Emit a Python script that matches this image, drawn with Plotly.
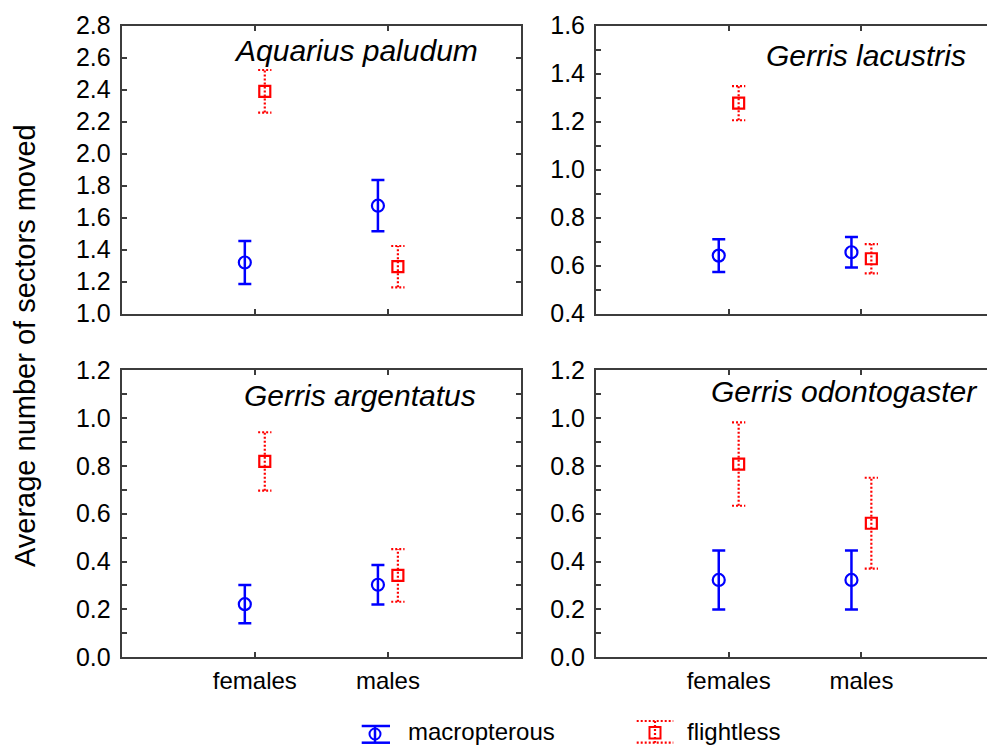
import plotly.graph_objects as go

# ---------------- data ----------------
categories = ["females", "males"]
species = ["Aquarius paludum", "Gerris lacustris", "Gerris argentatus", "Gerris odontogaster"]

macro_mean = [[1.32, 1.675], [0.642, 0.656], [0.222, 0.303], [0.323, 0.323]]
macro_err = [[0.135, 0.160], [0.068, 0.064], [0.080, 0.082], [0.123, 0.123]]
flight_mean = [[2.39, 1.294], [1.277, 0.629], [0.818, 0.342], [0.807, 0.560]]
flight_err = [[0.133, 0.129], [0.071, 0.061], [0.122, 0.110], [0.174, 0.190]]

y_ranges = [[1.0, 2.8], [0.4, 1.6], [0.0, 1.2], [0.0, 1.2]]
y_title = "Average number of sectors moved"
legend_names = ["macropterous", "flightless"]

# ---------------- styling ----------------
W, H = 987, 745
FONT = "Liberation Sans, Arial, sans-serif"
BLUE = "#0000FF"
RED = "#FF0000"
AX = "#3c3c3c"
OFF = 0.075      # horizontal offset of the two groups (category units)
CAP = 0.05       # half cap width (category units)

def px_x(p):
    return p / W

def px_y(p):
    return 1 - p / H

x_dom = [[px_x(121.7), px_x(521)], [px_x(596), 1.0]]
y_dom = [[px_y(313.7), px_y(25.7)], [px_y(657.3), px_y(370)]]
x_rng = [[0, 3], [0, (987 - 596) / 132.7]]

fig = go.Figure()
xpos = list(range(1, len(categories) + 1))

for i in range(4):
    row, col = divmod(i, 2)
    xa = "x" if i == 0 else f"x{i+1}"
    ya = "y" if i == 0 else f"y{i+1}"

    # macropterous (solid error bars)
    fig.add_trace(go.Scatter(
        x=[p - OFF for p in xpos], y=macro_mean[i],
        mode="markers",
        marker=dict(symbol="circle-open", size=12, color=BLUE, line=dict(width=2.2, color=BLUE)),
        error_y=dict(type="data", array=macro_err[i], visible=True,
                     color=BLUE, thickness=2.5, width=6.5),
        xaxis=xa, yaxis=ya, showlegend=False, hoverinfo="skip"))

    # flightless (dotted error bars, built from data)
    lx, ly = [], []
    for p, m, e in zip(xpos, flight_mean[i], flight_err[i]):
        xc = p + OFF
        lx += [xc, xc, None, xc - CAP, xc + CAP, None, xc - CAP, xc + CAP, None]
        ly += [m - e, m + e, None, m + e, m + e, None, m - e, m - e, None]
    fig.add_trace(go.Scatter(
        x=lx, y=ly, mode="lines",
        line=dict(color=RED, width=2.2, dash="2px,2px"),
        xaxis=xa, yaxis=ya, showlegend=False, hoverinfo="skip", connectgaps=False))
    fig.add_trace(go.Scatter(
        x=[p + OFF for p in xpos], y=flight_mean[i],
        mode="markers",
        marker=dict(symbol="square-open", size=11, color=RED, line=dict(width=2.2, color=RED)),
        xaxis=xa, yaxis=ya, showlegend=False, hoverinfo="skip"))

    key = "" if i == 0 else str(i + 1)
    fig.layout["xaxis" + key] = dict(
        domain=x_dom[col], range=x_rng[col], anchor=ya,
        tickvals=xpos, ticktext=categories,
        showticklabels=(row == 1),
        ticks="inside", ticklen=5, tickwidth=1.5, tickcolor=AX,
        showline=True, linecolor=AX, linewidth=2,
        mirror="ticks", showgrid=False, zeroline=False, automargin=False,
        tickfont=dict(family=FONT, size=24, color="black"),
        ticklabelstandoff=1)
    ydict = dict(
        domain=y_dom[row], range=y_ranges[i], anchor=xa,
        dtick=0.2, tick0=0, tickformat=".1f",
        ticks="inside", ticklen=5, tickwidth=1.5, tickcolor=AX,
        showline=True, linecolor=AX, linewidth=2,
        mirror=("ticks" if col == 0 else False),
        showgrid=False, zeroline=False, automargin=False,
        tickfont=dict(family=FONT, size=25, color="black"),
        ticklabelstandoff=4)
    if i != 0:
        ydict["minor"] = dict(dtick=0.1, tick0=0, ticks="inside", ticklen=5,
                              tickwidth=1.5, tickcolor=AX, showgrid=False)
    fig.layout["yaxis" + key] = ydict

# species titles
title_pos = [(480, 51), (967.7, 55), (478.3, 395), (979.3, 391)]
annotations = []
for name, (tx, ty) in zip(species, title_pos):
    annotations.append(dict(
        text=f"<i>{name}</i>", x=px_x(tx), y=px_y(ty), xref="paper", yref="paper",
        xanchor="right", yanchor="middle", showarrow=False,
        font=dict(family=FONT, size=30, color="black")))

# y-axis title
annotations.append(dict(
    text=y_title, x=px_x(25), y=px_y(346), xref="paper", yref="paper",
    xanchor="center", yanchor="middle", textangle=-90, showarrow=False,
    font=dict(family=FONT, size=29, color="black")))

# legend texts
annotations.append(dict(text=legend_names[0], x=px_x(406), y=px_y(731), xref="paper", yref="paper",
                        xanchor="left", yanchor="middle", showarrow=False,
                        font=dict(family=FONT, size=24, color="black")))
annotations.append(dict(text=legend_names[1], x=px_x(685), y=px_y(731), xref="paper", yref="paper",
                        xanchor="left", yanchor="middle", showarrow=False,
                        font=dict(family=FONT, size=24, color="black")))

# legend icons (decoration)
def seg(x0, y0, x1, y1, color, width, dash="solid"):
    return dict(type="line", xref="paper", yref="paper",
                x0=px_x(x0), y0=px_y(y0), x1=px_x(x1), y1=px_y(y1),
                line=dict(color=color, width=width, dash=dash))

shapes = [
    seg(361.7, 726, 390, 726, BLUE, 2.5),
    seg(361.7, 742.7, 390, 742.7, BLUE, 2.5),
    dict(type="circle", xref="paper", yref="paper",
         x0=px_x(369.5), x1=px_x(380.5), y0=px_y(739.5), y1=px_y(728.5),
         line=dict(color=BLUE, width=2), fillcolor="white"),
    seg(375, 726, 375, 742.7, BLUE, 2.5),
    seg(655, 721, 655, 742.7, RED, 2.2, "2px,2px"),
    seg(636.7, 721, 673.3, 721, RED, 2.2, "2px,2px"),
    seg(636.7, 742.7, 673.3, 742.7, RED, 2.2, "2px,2px"),
    dict(type="rect", xref="paper", yref="paper",
         x0=px_x(649.5), x1=px_x(660.5), y0=px_y(738.5), y1=px_y(727),
         line=dict(color=RED, width=2), fillcolor="rgba(0,0,0,0)"),
]

fig.update_layout(
    template="none",
    width=W, height=H,
    margin=dict(l=0, r=0, t=0, b=0, pad=0),
    paper_bgcolor="white", plot_bgcolor="white",
    showlegend=False,
    annotations=annotations, shapes=shapes,
    font=dict(family=FONT, color="black"),
)

fig.write_html(
    "out.html",
    config={"displayModeBar": False},
    post_script="document.body.style.margin='0';document.body.style.overflow='hidden';",
)
